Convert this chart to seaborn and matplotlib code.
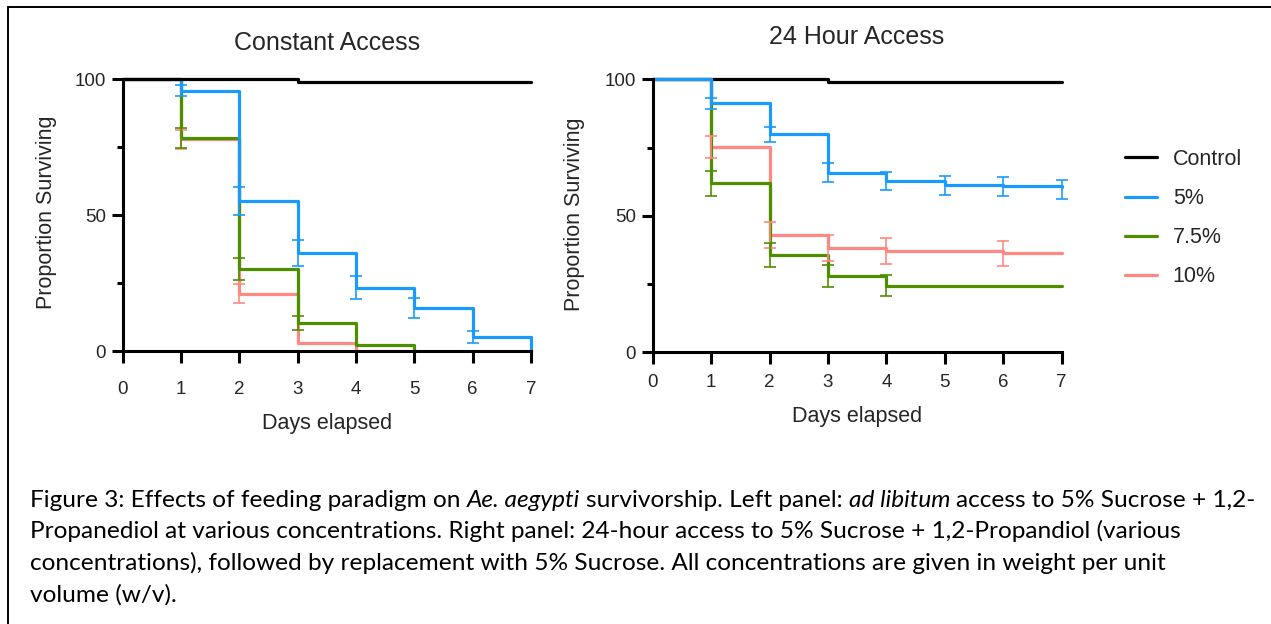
import matplotlib
matplotlib.use('Agg')
import matplotlib.pyplot as plt
from matplotlib.lines import Line2D
import numpy as np
import pandas as pd
import seaborn as sns

groups = ['Control', '5%', '7.5%', '10%']
colors = {'Control': '#000000', '5%': '#1A9BFC', '7.5%': '#4E8F00', '10%': '#FF8883'}

# ---- Constant Access (left panel) ----
ca_control_days = [0, 3, 7]
ca_control_surv = [100, 99.1, 99.1]
ca_5_days = [0, 1, 2, 3, 4, 5, 6, 7]
ca_5_surv = [100, 95.8, 55.2, 36.2, 23.2, 15.8, 5.2, 0]
ca_75_days = [0, 1, 2, 3, 4, 5]
ca_75_surv = [100, 78.3, 30.3, 10.2, 2.2, 0]
ca_10_days = [0, 1, 2, 3, 4]
ca_10_surv = [100, 77.9, 21.1, 2.9, 0]

ca_5_err_days = [1, 2, 3, 4, 5, 6]
ca_5_err_hi = [97.9, 60.4, 40.9, 27.6, 19.5, 7.4]
ca_5_err_lo = [93.9, 50.1, 31.2, 19.0, 12.1, 2.9]
ca_75_err_days = [1, 2, 3]
ca_75_err_hi = [82.0, 34.4, 12.9]
ca_75_err_lo = [74.6, 26.1, 7.6]
ca_10_err_days = [1, 2]
ca_10_err_hi = [81.5, 24.7]
ca_10_err_lo = [74.4, 17.5]

# ---- 24 Hour Access (right panel) ----
h24_control_days = [0, 3, 7]
h24_control_surv = [100, 99.1, 99.1]
h24_5_days = [0, 1, 2, 3, 4, 5, 6, 7]
h24_5_surv = [100, 91.2, 80.0, 65.8, 62.8, 61.2, 60.8, 60.4]
h24_75_days = [0, 1, 2, 3, 4, 7]
h24_75_surv = [100, 61.9, 35.8, 28.0, 24.4, 24.4]
h24_10_days = [0, 1, 2, 3, 4, 6, 7]
h24_10_surv = [100, 75.1, 43.0, 38.1, 37.1, 36.3, 36.3]

h24_5_err_days = [1, 2, 3, 4, 5, 6, 7]
h24_5_err_hi = [93.3, 82.7, 69.2, 66.2, 64.6, 64.1, 63.2]
h24_5_err_lo = [89.1, 76.9, 62.4, 59.3, 57.8, 57.1, 56.3]
h24_75_err_days = [1, 2, 3, 4]
h24_75_err_hi = [66.4, 40.0, 32.1, 28.3]
h24_75_err_lo = [57.4, 31.3, 23.8, 20.6]
h24_10_err_days = [1, 2, 3, 4, 6]
h24_10_err_hi = [79.2, 47.7, 43.0, 41.8, 40.9]
h24_10_err_lo = [71.1, 38.1, 33.3, 32.5, 31.5]

x_ticks = [0, 1, 2, 3, 4, 5, 6, 7]
y_ticks = [0, 50, 100]
y_minor = [25, 75]

# caption lines as (text, style) pieces
caption = [
    [("Figure 3: Effects of feeding paradigm on ", 'normal'), ("Ae. aegypti ", 'italic'),
     ("survivorship. Left panel: ", 'normal'), ("ad libitum ", 'italic'),
     ("access to 5% Sucrose + 1,2-", 'normal')],
    [("Propanediol at various concentrations. Right panel: 24-hour access to 5% Sucrose + 1,2-Propandiol (various", 'normal')],
    [("concentrations), followed by replacement with 5% Sucrose. All concentrations are given in weight per unit", 'normal')],
    [("volume (w/v).", 'normal')],
]

sns.set_theme(style='ticks')
plt.rcParams['font.family'] = ['Liberation Sans', 'DejaVu Sans']
cap_font = ['Lato', 'DejaVu Sans']


def long_df(series):
    rows = []
    for name, days, surv in series:
        for d, s in zip(days, surv):
            rows.append({'group': name, 'day': d, 'surv': s})
    return pd.DataFrame(rows)


def draw_panel(ax, df, order, errs, xpad):
    sns.lineplot(data=df, x='day', y='surv', hue='group', hue_order=order,
                 palette=colors, drawstyle='steps-post', estimator=None,
                 sort=True, legend=False, linewidth=2.3, clip_on=False, ax=ax)
    for name, d, hi, lo in errs:
        hi = np.array(hi)
        lo = np.array(lo)
        mid = (hi + lo) / 2
        ax.errorbar(d, mid, yerr=[mid - lo, hi - mid], fmt='none',
                    ecolor=colors[name], elinewidth=1.4, capsize=4.5,
                    capthick=1.4, clip_on=False, alpha=0.85)
    ax.set_xlim(0, 7)
    ax.set_ylim(0, 100)
    ax.set_xticks(x_ticks)
    ax.set_yticks(y_ticks)
    ax.set_yticks(y_minor, minor=True)
    for side in ['top', 'right']:
        ax.spines[side].set_visible(False)
    for side in ['left', 'bottom']:
        ax.spines[side].set_linewidth(2.2)
        ax.spines[side].set_color('black')
    ax.tick_params(axis='x', which='major', length=8.5, width=2.2,
                   labelsize=13.5, pad=xpad, color='black')
    ax.tick_params(axis='y', which='major', length=8, width=2.2,
                   labelsize=13.5, pad=4, color='black')
    ax.tick_params(axis='y', which='minor', length=4.5, width=2.2, color='black')
    ax.set_xlabel('Days elapsed', fontsize=15.5)
    ax.set_ylabel('Proportion Surviving', fontsize=15.5)
    ax.grid(False)


fig = plt.figure(figsize=(12.71, 6.24), dpi=100)
W, H = 1271, 624

ax1 = fig.add_axes([122.7 / W, 1 - 351 / H, 408.3 / W, 271.7 / H])
ax2 = fig.add_axes([652.7 / W, 1 - 352.3 / H, 409 / W, 273 / H])

df1 = long_df([('Control', ca_control_days, ca_control_surv),
               ('5%', ca_5_days, ca_5_surv),
               ('7.5%', ca_75_days, ca_75_surv),
               ('10%', ca_10_days, ca_10_surv)])
draw_panel(ax1, df1, ['10%', '7.5%', '5%', 'Control'],
           [('10%', ca_10_err_days, ca_10_err_hi, ca_10_err_lo),
            ('7.5%', ca_75_err_days, ca_75_err_hi, ca_75_err_lo),
            ('5%', ca_5_err_days, ca_5_err_hi, ca_5_err_lo)], xpad=13.2)

df2 = long_df([('Control', h24_control_days, h24_control_surv),
               ('5%', h24_5_days, h24_5_surv),
               ('7.5%', h24_75_days, h24_75_surv),
               ('10%', h24_10_days, h24_10_surv)])
draw_panel(ax2, df2, ['Control', '10%', '7.5%', '5%'],
           [('10%', h24_10_err_days, h24_10_err_hi, h24_10_err_lo),
            ('7.5%', h24_75_err_days, h24_75_err_hi, h24_75_err_lo),
            ('5%', h24_5_err_days, h24_5_err_hi, h24_5_err_lo)], xpad=7)

ax1.yaxis.set_label_coords(-0.161, 0.512)
ax1.xaxis.set_label_coords(0.5, -0.230)
ax2.yaxis.set_label_coords(-0.1655, 0.505)
ax2.xaxis.set_label_coords(0.5, -0.195)

fig.text(327 / W, 1 - 50 / H, 'Constant Access', ha='center', va='baseline', fontsize=18)
fig.text(857 / W, 1 - 43.5 / H, '24 Hour Access', ha='center', va='baseline', fontsize=18)

handles = [Line2D([], [], color=colors[g], linewidth=2.3) for g in groups]
fig.legend(handles, groups, loc='upper left', bbox_to_anchor=(1125 / W, 1 - 149 / H),
           frameon=False, borderpad=0, borderaxespad=0, fontsize=15.5,
           handlelength=1.5, handletextpad=0.72, labelspacing=0.84)

# caption, drawn piece by piece so the italic words sit inline
fig.canvas.draw()
r = fig.canvas.get_renderer()


def text_width(s, style, size):
    t1 = fig.text(0, 0, s + '|', fontsize=size, style=style, family=cap_font)
    t2 = fig.text(0, 0, '|', fontsize=size, style=style, family=cap_font)
    w = t1.get_window_extent(renderer=r).width - t2.get_window_extent(renderer=r).width
    t1.remove()
    t2.remove()
    return w


base = 15
w0 = sum(text_width(s, st, base) for s, st in caption[0])
cap_size = base * 1225 / w0

for i, line in enumerate(caption):
    x = 30
    y = 1 - (506.7 + 31.7 * i) / H
    for s, st in line:
        fig.text(x / W, y, s, ha='left', va='baseline', fontsize=cap_size,
                 style=st, family=cap_font, color='black')
        x += text_width(s, st, cap_size)

# frame border lines
fig.add_artist(Line2D([8 / W, 1], [1 - 7 / H, 1 - 7 / H], color='black', linewidth=1.4,
                      transform=fig.transFigure))
fig.add_artist(Line2D([8 / W, 8 / W], [0, 1 - 7 / H], color='black', linewidth=1.4,
                      transform=fig.transFigure))

fig.savefig('out.png', dpi=100)
